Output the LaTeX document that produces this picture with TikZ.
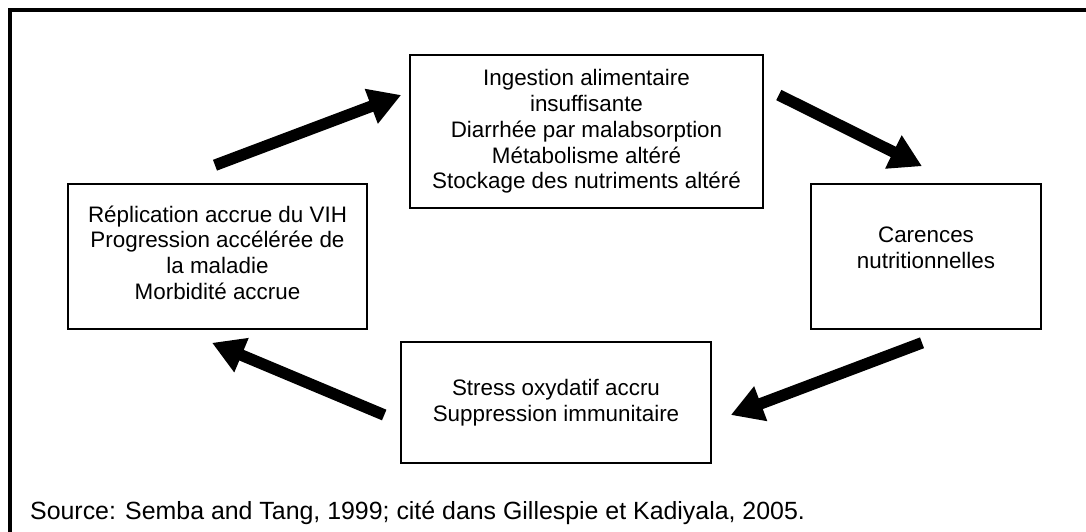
\documentclass[tikz,border=0pt]{standalone}
\usepackage{fontspec}
\setmainfont{Liberation Sans}
\usepackage{tikz}
\usetikzlibrary{arrows.meta}
\usetikzlibrary{positioning}
\usetikzlibrary{calc}
\tikzset{>={Triangle[length=32pt,width=35pt]}}
\tikzset{box/.style={draw, line width=1.6pt, rectangle, inner sep=0pt, align=center,
    font=\fontsize{22.4}{25.75}\selectfont}}
\tikzset{fat/.style={->, line width=11.5pt}}

\begin{document}
\begin{tikzpicture}[x=1pt, y=-1pt]
      \useasboundingbox (0,0) rectangle (1086,531);
      \clip (0,0) rectangle (1086,531);
      \draw[line width=3.6pt] (1100,10) -- (10,10) -- (10,545);

      \node[box, minimum width=353pt, minimum height=153pt] (ingest) at (586.5,131.5)
        {Ingestion alimentaire\\insuffisante\\Diarrhée par malabsorption\\Métabolisme altéré\\Stockage des nutriments altéré};
      \node[box, minimum width=230pt, minimum height=145pt, text depth=18pt] (carence) at (926,256.5)
        {Carences\\nutritionnelles};
      \node[box, minimum width=310pt, minimum height=121pt] (stress) at (556,402.5)
        {Stress oxydatif accru\\Suppression immunitaire};
      \node[box, minimum width=299pt, minimum height=145pt, text depth=8pt] (replic) at (217.5,256.5)
        {Réplication accrue du VIH\\Progression accélérée de\\la maladie\\Morbidité accrue};

      \node[anchor=base west, inner sep=0pt, font=\fontsize{24.9}{28}\selectfont] (source) at (30,519)
        {Source: Semba and Tang, 1999; cité dans Gillespie et Kadiyala, 2005.};

      \coordinate (a1) at ($(replic.north)+(-2.5,-18)$);
      \coordinate (b1) at ($(ingest.west)+(-8,-36.5)$);
      \coordinate (a2) at ($(ingest.east)+(15,-36.5)$);
      \coordinate (b2) at ($(carence.north)+(-4,-17)$);
      \coordinate (a3) at ($(carence.south)+(-4,13)$);
      \coordinate (b3) at ($(stress.east)+(19,12.5)$);
      \coordinate (a4) at ($(stress.west)+(-16,12.5)$);
      \coordinate (b4) at ($(replic.south)+(-5.5,13)$);

      \draw[fat] (a1) -- (b1);
      \draw[fat] (a2) -- (b2);
      \draw[fat] (a3) -- (b3);
      \draw[fat] (a4) -- (b4);
\end{tikzpicture}
\end{document}
